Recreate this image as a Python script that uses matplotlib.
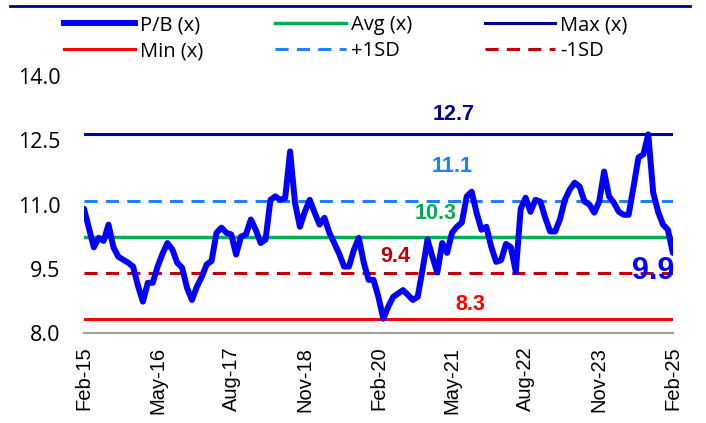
import numpy as np
import matplotlib.pyplot as plt
from matplotlib.lines import Line2D

# monthly P/B multiple, Feb-15 .. Feb-25
pb = [10.90, 10.45, 10.00, 10.22, 10.15, 10.53, 10.00, 9.78, 9.71, 9.64,
      9.55, 9.10, 8.73, 9.17, 9.17, 9.55, 9.85, 10.10, 9.95, 9.64,
      9.52, 9.05, 8.77, 9.08, 9.31, 9.60, 9.68, 10.34, 10.46, 10.34,
      10.30, 9.83, 10.25, 10.30, 10.65, 10.41, 10.10, 10.18, 11.11, 11.19,
      11.11, 11.15, 12.24, 11.04, 10.48, 10.83, 11.11, 10.81, 10.53, 10.69,
      10.34, 10.10, 9.85, 9.55, 9.55, 9.94, 10.22, 9.65, 9.24, 9.24,
      8.84, 8.33, 8.61, 8.84, 8.92, 9.00, 8.89, 8.77, 8.84, 9.48,
      10.18, 9.78, 9.41, 10.10, 9.87, 10.34, 10.48, 10.58, 11.19, 11.30,
      10.81, 10.41, 10.48, 10.01, 9.66, 9.70, 10.08, 10.00, 9.43, 10.90,
      11.16, 10.83, 11.11, 11.07, 10.69, 10.37, 10.37, 10.65, 11.11, 11.35,
      11.51, 11.42, 11.07, 11.00, 10.81, 11.07, 11.77, 11.19, 11.04, 10.83,
      10.76, 10.76, 11.42, 12.10, 12.17, 12.64, 11.28, 10.83, 10.53, 10.41,
      9.87]
avg_v = 10.25
max_v = 12.64
min_v = 8.33
sd_up = 11.09
sd_dn = 9.41

tick_labels = ['Feb-15', 'May-16', 'Aug-17', 'Nov-18', 'Feb-20',
               'May-21', 'Aug-22', 'Nov-23', 'Feb-25']
yticks = [8.0, 9.5, 11.0, 12.5, 14.0]

c_pb = '#0000FF'
c_avg = '#00B050'
c_max = '#000099'
c_min = '#FF0000'
c_up = '#1E7FFF'
c_dn = '#C00000'
dash = (0, (4.3, 2.7))

plt.rcParams['font.family'] = ['Open Sans', 'DejaVu Sans']

fig = plt.figure(figsize=(7.06, 4.23), dpi=100)
ax = fig.add_axes([0.119, 0.213, 0.834, 0.607])

x = np.arange(len(pb))
ax.axhline(max_v, color=c_max, lw=2.2)
ax.axhline(sd_up, color=c_up, lw=2.2, ls=dash)
ax.axhline(avg_v, color=c_avg, lw=2.5)
ax.axhline(sd_dn, color=c_dn, lw=2.2, ls=dash)
ax.axhline(min_v, color=c_min, lw=2.2)
ax.plot(x, pb, color=c_pb, lw=4.3, solid_joinstyle='round', solid_capstyle='round')

ax.set_xlim(0, len(pb) - 1)
ax.set_ylim(8, 14)
ax.set_yticks(yticks)
ax.set_yticklabels(['%.1f' % v for v in yticks], fontsize=15.5)
ax.set_xticks(np.arange(0, len(pb), 15))
ax.set_xticklabels(tick_labels, rotation=90, fontsize=14.5, family='Liberation Sans')
ax.tick_params(axis='both', length=0)
ax.tick_params(axis='x', pad=10)
ax.tick_params(axis='y', pad=17)
for s in ['top', 'right', 'left']:
    ax.spines[s].set_visible(False)
ax.spines['bottom'].set_color('#A0A0A0')
ax.spines['bottom'].set_linewidth(1.5)

# value labels
kw = dict(fontsize=15.5, fontweight='bold', family='Liberation Sans', ha='center', va='center')
ax.text(75.3, 13.1, '%.1f' % 12.7, color=c_max, **kw)
ax.text(75.1, 11.89, '%.1f' % 11.1, color=c_up, **kw)
ax.text(71.6, 10.79, '%.1f' % 10.3, color=c_avg, **kw)
ax.text(63.5, 9.78, '%.1f' % 9.4, color=c_dn, **kw)
ax.text(78.8, 8.66, '%.1f' % 8.3, color=c_min, **kw)
ax.text(115.9, 9.45, '%.1f' % 9.9, color=c_pb, fontsize=22, fontweight='bold',
        family='Liberation Sans', ha='center', va='center')

handles = [
    Line2D([], [], color=c_pb, lw=4.3),
    Line2D([], [], color=c_min, lw=2.2),
    Line2D([], [], color=c_avg, lw=2.5),
    Line2D([], [], color=c_up, lw=2.2, ls=dash),
    Line2D([], [], color=c_max, lw=2.2),
    Line2D([], [], color=c_dn, lw=2.2, ls=dash),
]
labels = ['P/B (x)', 'Min (x)', 'Avg (x)', '+1SD', 'Max (x)', '-1SD']
fig.legend(handles, labels, ncol=3, loc='center', bbox_to_anchor=(0.49, 0.91),
           frameon=False, fontsize=14.5, handlelength=3.5, columnspacing=3.6,
           labelspacing=0.3, handletextpad=0.25)

# top rule of the clipped header
fig.add_artist(Line2D([0.014, 0.977], [0.986, 0.986], color='#000080', lw=2))

fig.savefig('out.png', dpi=100)
